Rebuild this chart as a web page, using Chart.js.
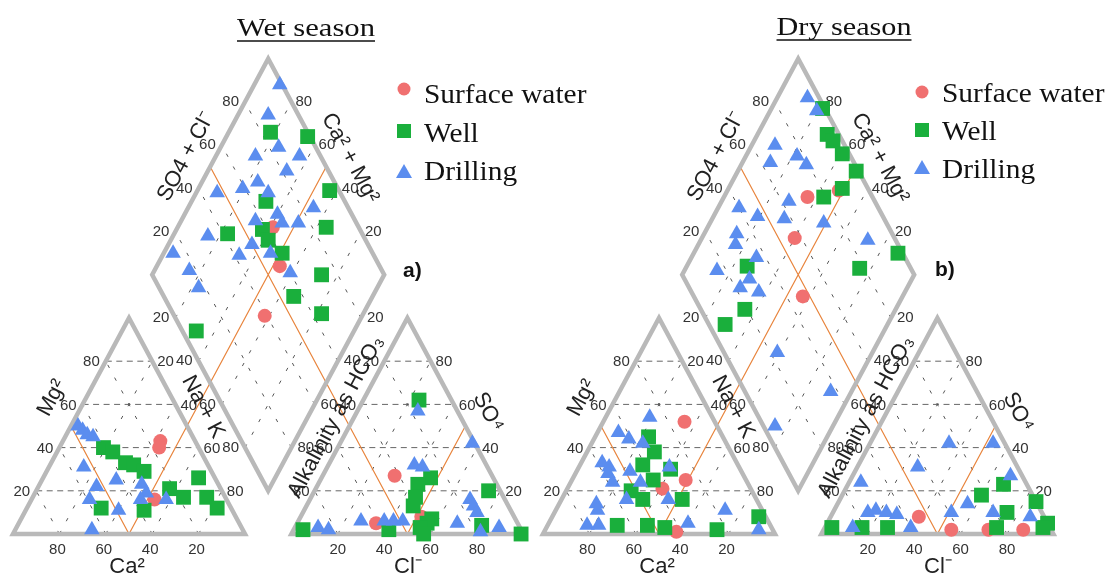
<!DOCTYPE html>
<html>
<head>
<meta charset="utf-8">
<script src="https://cdn.jsdelivr.net/npm/chart.js@4.4.0/dist/chart.umd.min.js"></script>
<style>
  html, body { margin: 0; padding: 0; background: #fff; }
  #wrap { width: 1108px; height: 578px; position: relative; }
</style>
</head>
<body>
<div id="wrap"><canvas id="piper"></canvas></div>
<script>
/* series + ticks */
const SERIES = ['Surface water', 'Well', 'Drilling'];
const TICKS = [20, 40, 60, 80];
const PANELS = ['Wet season', 'Dry season'];
const PANEL_TAGS = ['a)', 'b)'];

/* cation triangle: [Ca %, Mg %]  (Na+K = rest) */
const wetCatSurface = [[15,43],[17,40],[31,16]];
const wetCatWell = [[41,40],[38,38],[35,33],[32,32],[29,29],[56,12],[38,11],[22,21],[18,17],[7,26],[8,17],[6,12]];
const wetCatDrilling = [[47,50],[46,48],[45,46],[43,45],[54,31],[43,25],[53,22],[59,16],[49,11],[65,2],[33,23],[33,19],[37,16],[26,16]];
/* anion triangle: [Cl %, SO4 %]  (HCO3 = rest) */
const wetAniSurface = [[31,27],[34,5],[52,8]];
const wetAniWell = [[24,62],[47,26],[43,23],[45,17],[46,13],[57,7],[56,5],[54,3],[75,20],[80,4],[99,0],[41,2],[4,2],[57,0]];
const wetAniDrilling = [[26,57],[57,42],[37,32],[41,31],[69,16],[72,13],[75,10],[10,3],[15,2],[27,6],[37,6],[41,6],[45,6],[69,5],[88,3],[81,1]];
/* diamond: [Ca+Mg %, SO4+Cl %] */
const wetDiaSurface = [[59,63],[47,57],[42,39]];
const wetDiaWell = [[82,84],[65,99],[43,96],[68,66],[36,86],[77,42],[63,58],[58,58],[49,61],[27,73],[34,56],[18,64],[68,6]];
const wetDiaDrilling = [[89,99],[87,87],[75,84],[64,91],[83,72],[66,82],[91,47],[81,59],[76,67],[69,69],[46,85],[60,68],[56,68],[49,75],[68,57],[85,33],[96,14],[67,42],[64,50],[54,56],[85,17],[77,17],[41,60]];

const dryCatSurface = [[13,52],[26,25],[38,21],[42,1]];
const dryCatWell = [[32,45],[33,38],[41,32],[30,30],[40,25],[52,20],[49,16],[32,16],[66,4],[53,4],[46,3],[24,2],[3,8]];
const dryCatDrilling = [[27,54],[44,47],[41,44],[36,42],[58,33],[56,31],[58,28],[48,29],[58,24],[46,24],[56,16],[70,14],[71,11],[79,4],[74,4],[38,16],[30,31],[35,5],[16,11],[6,2]];
const dryAniSurface = [[38,8],[55,2],[71,2],[86,2]];
const dryAniWell = [[3,3],[16,3],[27,3],[60,18],[67,23],[75,10],[74,3],[85,15],[95,5],[94,3]];
const dryAniDrilling = [[34,42],[53,42],[26,31],[5,24],[68,27],[56,14],[51,10],[69,10],[15,10],[18,11],[23,10],[28,9],[12,3],[37,3],[86,8]];
const dryDiaSurface = [[64,72],[52,87],[60,57],[43,47]];
const dryDiaWell = [[78,99],[70,95],[66,96],[59,97],[49,99],[51,89],[57,79],[12,98],[25,78],[65,19],[70,7],[74,30]];
const dryDiaDrilling = [[87,95],[80,96],[90,70],[78,77],[88,64],[72,79],[91,40],[81,46],[71,63],[69,57],[51,73],[86,33],[84,30],[72,36],[86,16],[28,88],[72,22],[63,29],[70,28],[41,23],[9,37],[25,5]];

/* geometry (unit side triangles, gap 0.2) */
const H = Math.sqrt(3) / 2;
const PANEL_DX = [0, 530 / 232];
const PX_U = 232, PX_V = 216 / H;

function cat(p, dx) { const ca = p[0] / 100, mg = p[1] / 100, na = 1 - ca - mg; return { x: dx + na + mg / 2, y: mg * H }; }
function ani(p, dx) { const cl = p[0] / 100, so = p[1] / 100; return { x: dx + 1.2 + cl + so / 2, y: so * H }; }
function dia(p, dx) { const c = p[0] / 100, s = p[1] / 100; return { x: dx + 1.1 + (s - c) / 2, y: 0.2 * H + (s + c) * H }; }

function pts(panel, c, a, d) {
  const dx = PANEL_DX[panel];
  return c.map(p => cat(p, dx)).concat(a.map(p => ani(p, dx)), d.map(p => dia(p, dx)));
}

const RED = '#f07070', GREEN = '#1aaf3c', BLUE = '#5b8def';

function ds(label, data, style, color, radius, order) {
  return { label: label, data: data, pointStyle: style, backgroundColor: color, borderColor: color,
           borderWidth: 0, pointRadius: radius, pointHoverRadius: radius, showLine: false, order: order, clip: false };
}

const datasets = [
  ds(SERIES[0], pts(0, wetCatSurface, wetAniSurface, wetDiaSurface).concat(pts(1, dryCatSurface, dryAniSurface, dryDiaSurface)), 'circle', RED, 7, 3),
  ds(SERIES[1], pts(0, wetCatWell, wetAniWell, wetDiaWell).concat(pts(1, dryCatWell, dryAniWell, dryDiaWell)), 'rect', GREEN, 10.5, 2),
  ds(SERIES[2], pts(0, wetCatDrilling, wetAniDrilling, wetDiaDrilling).concat(pts(1, dryCatDrilling, dryAniDrilling, dryDiaDrilling)), 'triangle', BLUE, 9, 1)
];

/* drawing of frames, grids and texts */
const SANS = '"Liberation Sans", Arial, sans-serif';
const SERIF = '"Liberation Serif", "Times New Roman", serif';

function rotText(ctx, str, x, y, deg, size) {
  ctx.save();
  ctx.translate(x, y);
  ctx.rotate(deg * Math.PI / 180);
  ctx.font = size + 'px ' + SANS;
  ctx.textAlign = 'center';
  ctx.textBaseline = 'middle';
  ctx.fillText(str, 0, 0);
  ctx.restore();
}

const piperPlugin = {
  id: 'piper',
  beforeDatasetsDraw(chart) {
    const ctx = chart.ctx, xs = chart.scales.x, ys = chart.scales.y;
    const P = q => [xs.getPixelForValue(q.x), ys.getPixelForValue(q.y)];
    function line(a, b) { const p = P(a), q = P(b); ctx.moveTo(p[0], p[1]); ctx.lineTo(q[0], q[1]); }
    function poly(list) { ctx.beginPath(); list.forEach((q, i) => { const p = P(q); i ? ctx.lineTo(p[0], p[1]) : ctx.moveTo(p[0], p[1]); }); ctx.closePath(); ctx.stroke(); }
    function label(str, q, ox, oy, align) {
      const p = P(q);
      ctx.textAlign = align; ctx.textBaseline = 'middle';
      ctx.fillText(str, p[0] + ox, p[1] + oy);
    }

    PANEL_DX.forEach((dx, k) => {
      const off = k * 530;
      ctx.save();
      // long dashes (horizontal)
      ctx.strokeStyle = '#666'; ctx.lineWidth = 1; ctx.setLineDash([6, 4.5]);
      ctx.beginPath();
      TICKS.forEach(t => { line(cat([100 - t, t], dx), cat([0, t], dx)); line(ani([0, t], dx), ani([100 - t, t], dx)); });
      ctx.stroke();
      // short dashes (slanted)
      ctx.strokeStyle = '#555'; ctx.setLineDash([3.5, 11]);
      ctx.beginPath();
      TICKS.forEach(t => {
        line(cat([100 - t, 0], dx), cat([0, 100 - t], dx));
        line(cat([t, 0], dx), cat([t, 100 - t], dx));
        line(ani([t, 0], dx), ani([t, 100 - t], dx));
        line(ani([100 - t, 0], dx), ani([0, 100 - t], dx));
        line(dia([t, 0], dx), dia([t, 100], dx));
        line(dia([0, t], dx), dia([100, t], dx));
      });
      ctx.stroke();
      // orange classification lines
      ctx.setLineDash([]);
      ctx.strokeStyle = '#e8843c'; ctx.lineWidth = 1.2;
      ctx.beginPath();
      line(cat([50, 0], dx), cat([50, 50], dx));
      line(cat([50, 0], dx), dia([50, 100], dx));
      line(ani([50, 0], dx), ani([50, 50], dx));
      line(ani([50, 0], dx), dia([100, 50], dx));
      ctx.stroke();
      // outlines
      ctx.strokeStyle = '#b9b9b9'; ctx.lineWidth = 4.5; ctx.lineJoin = 'miter';
      poly([cat([100, 0], dx), cat([0, 0], dx), cat([0, 100], dx)]);
      poly([ani([0, 0], dx), ani([100, 0], dx), ani([0, 100], dx)]);
      poly([dia([0, 0], dx), dia([0, 100], dx), dia([100, 100], dx), dia([100, 0], dx)]);

      // tick labels
      ctx.fillStyle = '#333';
      ctx.font = '15px ' + SANS;
      TICKS.forEach(t => {
        const s = String(t);
        label(s, cat([100 - t, t], dx), -6, 1, 'right');           // Mg
        label(s, cat([0, 100 - t], dx), 5, 1, 'left');             // Na+K
        label(s, cat([t, 0], dx), -2, 16, 'center');               // Ca
        label(s, ani([0, 100 - t], dx), -5, 1, 'right');           // HCO3
        label(s, ani([100 - t, t], dx), 5, 1, 'left');             // SO4
        label(s, ani([t, 0], dx), 0, 16, 'center');                // Cl
        label(s, dia([100, t], dx), -6, 0, 'right');               // SO4+Cl
        label(s, dia([t, 100], dx), 4, 0, 'left');                 // Ca+Mg
        label(s, dia([100 - t, 0], dx), -6, 0, 'right');           // Na+K (diamond)
        label(s, dia([0, 100 - t], dx), 6, 0, 'left');             // HCO3 (diamond)
      });

      // axis titles
      ctx.fillStyle = '#222';
      rotText(ctx, 'SO4 + Cl\u207B', 186 + off, 157, -62, 22);
      rotText(ctx, 'Ca\u00B2 + Mg\u00B2', 350 + off, 158, 62, 22);
      rotText(ctx, 'Mg\u00B2', 52 + off, 398, -62, 22);
      rotText(ctx, 'Na + K', 203 + off, 407, 62, 22);
      rotText(ctx, 'Alkalinity as HCO\u2083', 336 + off, 417, -62, 22);
      rotText(ctx, 'SO\u2074', 488 + off, 412, 62, 22);
      ctx.font = '22px ' + SANS; ctx.textAlign = 'center'; ctx.textBaseline = 'alphabetic';
      ctx.fillText('Ca\u00B2', 127 + off, 573);
      ctx.fillText('Cl\u207B', 408 + off, 573);
      ctx.restore();
    });
  },
  afterDraw(chart) {
    const ctx = chart.ctx;
    ctx.save();
    // panel titles (wide serif, underlined)
    const titles = [{ x: 306, y: 36, w: 138 }, { x: 844, y: 35, w: 135 }];
    titles.forEach((t, i) => {
      ctx.font = '25px ' + SERIF;
      ctx.fillStyle = '#111';
      const w = ctx.measureText(PANELS[i]).width;
      ctx.save();
      ctx.translate(t.x, t.y);
      ctx.scale(t.w / w, 1);
      ctx.textAlign = 'center'; ctx.textBaseline = 'alphabetic';
      ctx.fillText(PANELS[i], 0, 0);
      ctx.restore();
      ctx.strokeStyle = '#111'; ctx.lineWidth = 1.3;
      ctx.beginPath(); ctx.moveTo(t.x - t.w / 2, t.y + 5); ctx.lineTo(t.x + t.w / 2, t.y + 5); ctx.stroke();
    });
    // legends
    const legends = [{ mx: 404, tx: 424, rows: [89, 131, 172], base: [103, 142, 180] },
                     { mx: 922, tx: 942, rows: [92, 130, 168], base: [102, 140, 178] }];
    const colors = [RED, GREEN, BLUE];
    legends.forEach(L => {
      SERIES.forEach((name, i) => {
        const x = L.mx, y = L.rows[i];
        ctx.fillStyle = colors[i];
        ctx.beginPath();
        if (i === 0) ctx.arc(x, y, 6.5, 0, Math.PI * 2);
        else if (i === 1) ctx.rect(x - 7, y - 7, 14, 14);
        else { ctx.moveTo(x, y - 8); ctx.lineTo(x + 8, y + 6); ctx.lineTo(x - 8, y + 6); ctx.closePath(); }
        ctx.fill();
        ctx.fillStyle = '#111';
        ctx.font = '28px ' + SERIF;
        ctx.textAlign = 'left'; ctx.textBaseline = 'alphabetic';
        ctx.save();
        ctx.translate(L.tx, L.base[i]);
        ctx.scale(1.05, 1);
        ctx.fillText(name, 0, 0);
        ctx.restore();
      });
    });
    // panel tags
    ctx.font = 'bold 21px ' + SANS;
    ctx.fillStyle = '#111';
    ctx.textAlign = 'left'; ctx.textBaseline = 'alphabetic';
    ctx.fillText(PANEL_TAGS[0], 403, 277);
    ctx.fillText(PANEL_TAGS[1], 935, 276);
    ctx.restore();
  }
};

new Chart(document.getElementById('piper'), {
  type: 'scatter',
  data: { datasets: datasets },
  options: {
    responsive: true,
    maintainAspectRatio: false,
    animation: false,
    events: [],
    layout: { padding: 0, autoPadding: false },
    plugins: { legend: { display: false }, tooltip: { enabled: false } },
    scales: {
      x: { type: 'linear', display: false, min: -13 / PX_U, max: 1095 / PX_U },
      y: { type: 'linear', display: false, min: -44 / PX_V, max: 534 / PX_V }
    }
  },
  plugins: [piperPlugin]
});
</script>
</body>
</html>
